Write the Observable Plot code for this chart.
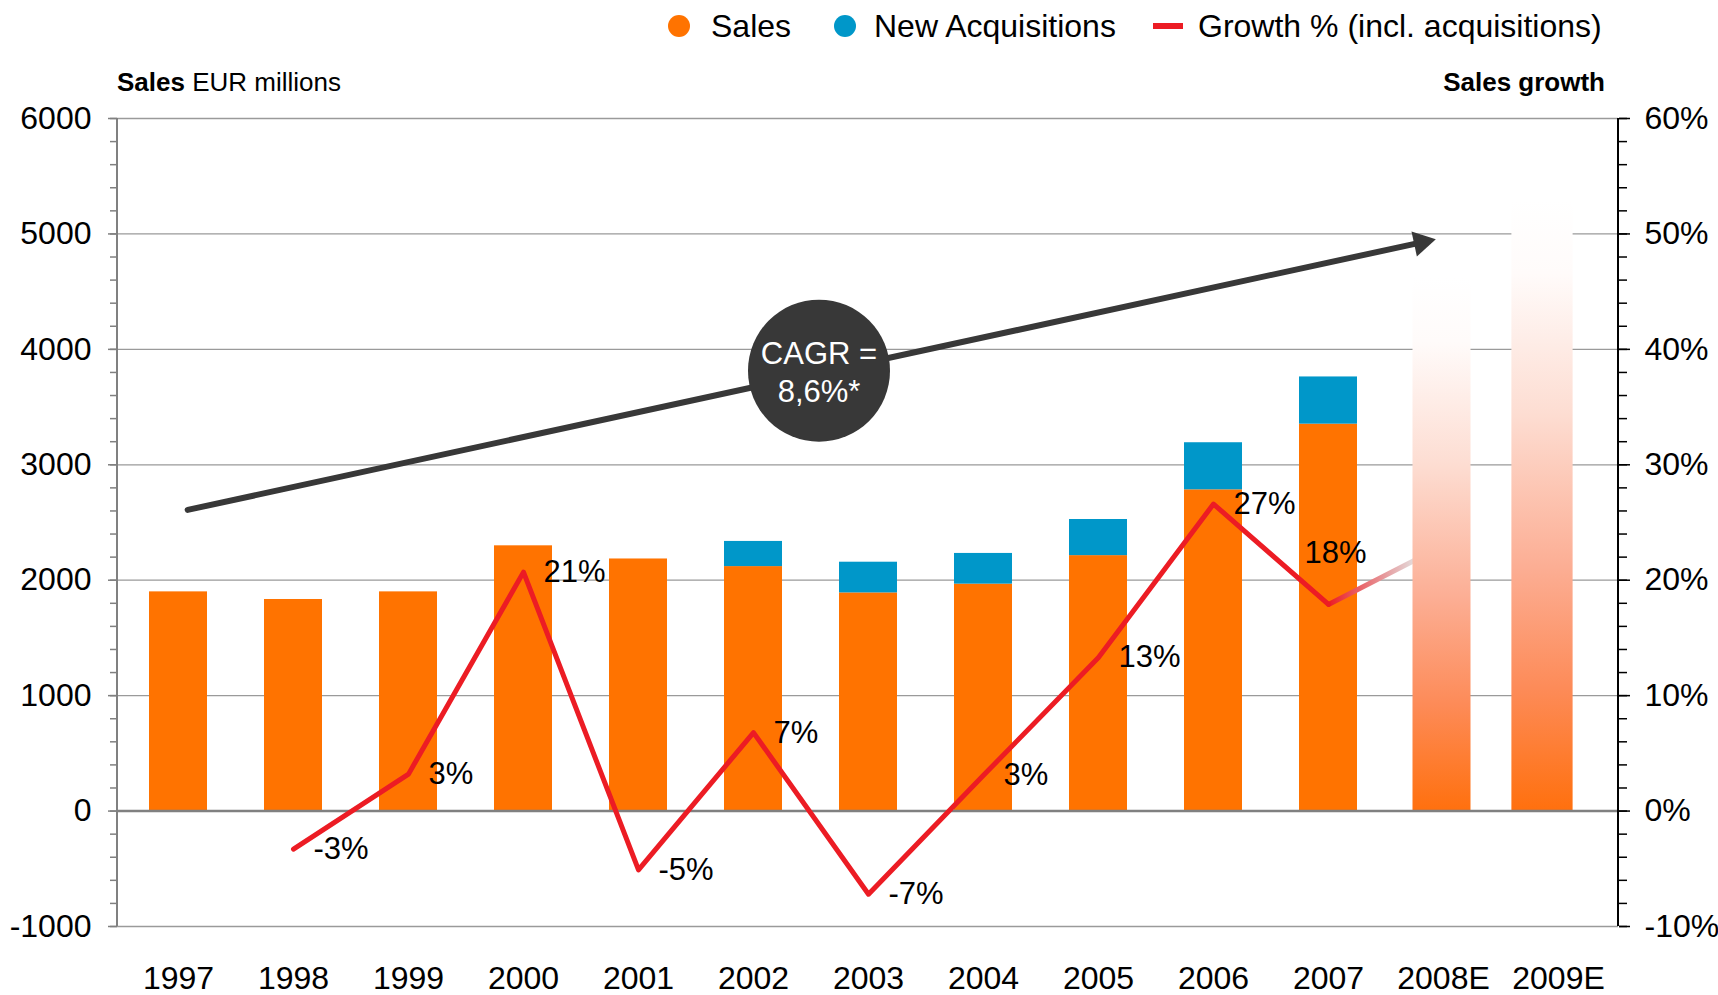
<!DOCTYPE html>
<html><head><meta charset="utf-8">
<script src="https://cdn.jsdelivr.net/npm/d3@7"></script>
<script src="https://cdn.jsdelivr.net/npm/@observablehq/plot@0.6"></script>
<style>
body{margin:0;background:#fff;font-family:"Liberation Sans",Arial,sans-serif;color:#000;}
#wrap{position:relative;width:1718px;height:995px;overflow:hidden;}
#chart{position:absolute;left:0;top:0;}
.t{position:absolute;white-space:nowrap;}
.leg{font-size:32px;line-height:32px;top:10px;}
.dot{position:absolute;width:22px;height:22px;border-radius:50%;top:15px;}
.dash{position:absolute;width:30px;height:6px;top:23px;background:#ec1c24;}
.ttl{font-size:26px;line-height:26px;top:69px;}
</style></head><body>
<div id="wrap">
  <div id="chart"></div>
  <div class="dot" style="left:668px;background:#ff7300"></div>
  <div class="t leg" style="left:711px">Sales</div>
  <div class="dot" style="left:834px;background:#0097c9"></div>
  <div class="t leg" style="left:874px">New Acquisitions</div>
  <div class="dash" style="left:1153px"></div>
  <div class="t leg" style="left:1198px">Growth % (incl. acquisitions)</div>
  <div class="t ttl" style="left:117px"><b>Sales</b> EUR millions</div>
  <div class="t ttl" style="right:113px"><b>Sales growth</b></div>
</div>
<script>
// ---- data ----
const years = ["1997","1998","1999","2000","2001","2002","2003","2004","2005","2006","2007","2008E","2009E"];
const actualYears = ["1997","1998","1999","2000","2001","2002","2003","2004","2005","2006","2007"];
const sales = [1899, 1833, 1899, 2298, 2184, 2118, 1890, 1966, 2213, 2783, 3352];
const acquisitions = [0, 0, 0, 0, 0, 218, 266, 266, 313, 408, 409];
const growth = [null, -3.3, 3.2, 20.7, -5.1, 6.8, -7.2, 3.1, 13.3, 26.6, 17.9]; // % incl. acquisitions
const estimateYears = ["2008E", "2009E"];
const estimateSales = [4617, 5287];
const growthEstimate2008 = 23;
const yTicks = [-1000, 0, 1000, 2000, 3000, 4000, 5000, 6000];
const yMinorTicks = d3.range(-1000, 6001, 200);
const cagrLabel = "CAGR =\n8,6%*";
const cagrFrom = "1997", cagrTo = "2008E";
const cagrValues = [2592, 4968];
const cagrBubble = {year: "2003", value: 3815};
const seriesNames = ["Sales", "New Acquisitions"];
const seriesColors = ["#ff7300", "#0097c9"];

// ---- tables built from the arrays ----
const stackRows = [];
actualYears.forEach((y, i) => {
  stackRows.push({year: y, series: "Sales", value: sales[i]});
  if (acquisitions[i] > 0) stackRows.push({year: y, series: "New Acquisitions", value: acquisitions[i]});
});
const growthRows = actualYears.map((y, i) => ({year: y, g: growth[i]})).filter(d => d.g != null);
const fadeRows = [{year: "2007", g: growth[10]}, {year: "2008E", g: growthEstimate2008}];
const estRows = estimateYears.map((y, i) => ({year: y, value: estimateSales[i]}));
const arrowRows = [{from: cagrFrom, to: cagrTo, v1: cagrValues[0], v2: cagrValues[1]}];

const FONT = "Liberation Sans, Arial, sans-serif";

function defsMark() {
  const defs = d3.create("svg:defs");
  const g1 = defs.append("linearGradient").attr("id", "estGrad")
    .attr("x1", 0).attr("y1", 0).attr("x2", 0).attr("y2", 1);
  [[0, "#ffffff"], [0.12, "#fffbfa"], [0.35, "#fdddd2"], [0.6, "#fcae94"], [0.8, "#fd8b58"], [1, "#ff700e"]]
    .forEach(([o, c]) => g1.append("stop").attr("offset", o).attr("stop-color", c));
  const g2 = defs.append("linearGradient").attr("id", "fadeGrad")
    .attr("x1", 0).attr("y1", 0).attr("x2", 1).attr("y2", 0);
  [[0, "#ec1c24"], [0.73, "#e4d8d8"], [1, "#f2ecec"]]
    .forEach(([o, c]) => g2.append("stop").attr("offset", o).attr("stop-color", c));
  return defs.node();
}

function axisLines(index, scales, values, dims) {
  const g = d3.create("svg:g");
  const yTop = scales.y(6000), yBot = scales.y(-1000);
  const xl = dims.marginLeft, xr = dims.width - dims.marginRight;
  g.append("line").attr("x1", xl).attr("x2", xl).attr("y1", yTop).attr("y2", yBot)
    .attr("stroke", "#808080").attr("stroke-width", 2);
  g.append("line").attr("x1", xr).attr("x2", xr).attr("y1", yTop).attr("y2", yBot)
    .attr("stroke", "#000").attr("stroke-width", 2);
  return g.node();
}

const chart = Plot.plot({
  width: 1718,
  height: 995,
  marginTop: 118,
  marginBottom: 69,
  marginLeft: 117,
  marginRight: 100,
  style: {fontFamily: FONT, fontSize: "32px", color: "#000", background: "#fff", overflow: "visible"},
  x: {type: "band", domain: years, paddingInner: 0.5, paddingOuter: 0.25, align: 0.5},
  y: {domain: [-1000, 6000]},
  color: {domain: seriesNames, range: seriesColors},
  marks: [
    defsMark,
    Plot.gridY({ticks: yTicks, stroke: "#9a9a9a", strokeOpacity: 1, strokeWidth: 1.3}),
    Plot.barY(stackRows, {x: "year", y: "value", fill: "series", order: seriesNames}),
    Plot.line(fadeRows, {x: "year", y: d => d.g * 100, stroke: "url(#fadeGrad)", strokeWidth: 5}),
    Plot.barY(estRows.filter(d => d.year === "2008E"), {x: "year", y: "value", fill: "url(#estGrad)", dx: -1.5}),
    Plot.barY(estRows.filter(d => d.year === "2009E"), {x: "year", y: "value", fill: "url(#estGrad)", dx: -16, insetLeft: -1.6, insetRight: -1.6}),
    Plot.ruleY([0], {stroke: "#808080", strokeWidth: 2.5}),
    axisLines,
    Plot.axisY({ticks: yMinorTicks, tickSize: 7, tickFormat: () => "", stroke: "#808080", strokeWidth: 1.5, label: null}),
    Plot.axisY({ticks: yTicks, tickSize: 9, tickPadding: 17, tickFormat: d => String(d), stroke: "#808080", strokeWidth: 1.5, fill: "#000", fontSize: 32, label: null}),
    Plot.axisY({anchor: "right", ticks: yMinorTicks, tickSize: 8, tickFormat: () => "", stroke: "#000", strokeWidth: 1.5, label: null}),
    Plot.axisY({anchor: "right", ticks: yTicks, tickSize: 11, tickPadding: 15, tickFormat: d => `${d / 100}%`, stroke: "#000", strokeWidth: 1.5, fill: "#000", fontSize: 32, label: null}),
    Plot.axisX({tickSize: 0, tickPadding: 40, fontSize: 32, fill: "#000", label: null}),
    Plot.line(growthRows, {x: "year", y: d => d.g * 100, stroke: "#ec1c24", strokeWidth: 5}),
    Plot.text(growthRows.filter(d => d.year !== "2007"), {x: "year", y: d => d.g * 100, text: d => `${Math.round(d.g)}%`, textAnchor: "start", dx: 20, fontSize: 31, fill: "#000"}),
    Plot.text(growthRows.filter(d => d.year === "2007"), {x: "year", y: d => d.g * 100, text: d => `${Math.round(d.g)}%`, textAnchor: "middle", dx: 7, dy: -51, fontSize: 31, fill: "#000"}),
    Plot.arrow(arrowRows, {x1: "from", y1: "v1", x2: "to", y2: "v2", stroke: "#383838", strokeWidth: 6, headLength: 0, insetStart: 9.4, insetEnd: 20}),
    Plot.dot(arrowRows, {x: "to", y: "v2", symbol: "triangle", r: 9.5, rotate: 77.8, fill: "#383838", stroke: "none", dx: -22.1, dy: 4.8}),
    Plot.dot([cagrBubble], {x: "year", y: "value", r: 71, fill: "#383838", stroke: "none", dx: -49.5}),
    Plot.text([cagrBubble], {x: "year", y: "value", text: () => cagrLabel, dx: -49.5, lineHeight: 1.25, fontSize: 31, fill: "#fff"})
  ]
});
document.getElementById("chart").appendChild(chart);
</script>
</body></html>
